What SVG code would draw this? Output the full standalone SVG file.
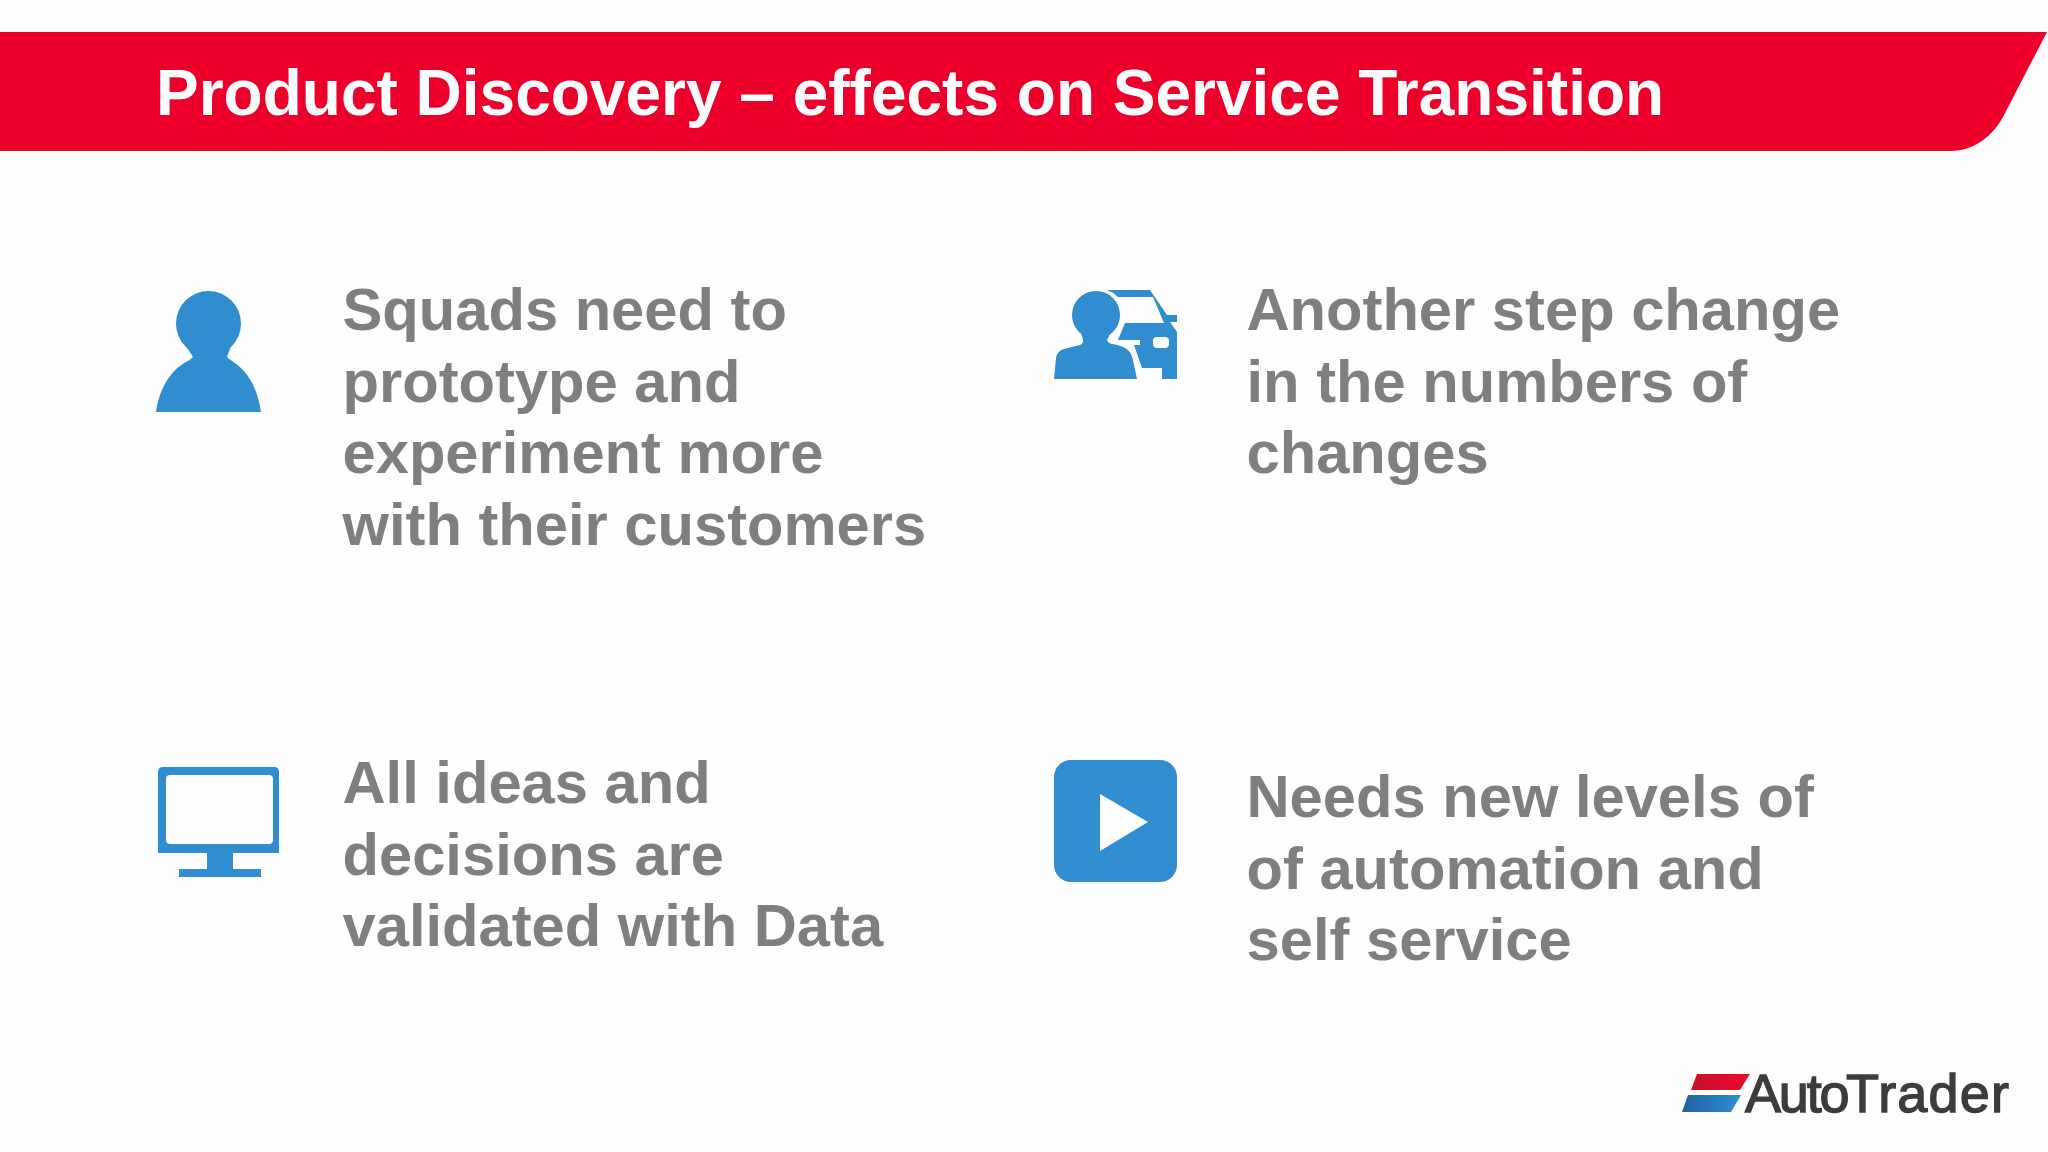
<svg xmlns="http://www.w3.org/2000/svg" width="2048" height="1152" viewBox="0 0 2048 1152">
<style>
.b{font-family:"Liberation Sans",Arial,sans-serif;font-weight:700;font-size:59.7px;fill:#7f7f7f}
.i{fill:#2f8dd0}
.l{font-family:"Liberation Sans",Arial,sans-serif;font-size:54px;fill:#3c3c3e;stroke:#3c3c3e;stroke-width:1.4}
</style>
<defs>
<linearGradient id="r" x1="0" x2="1" y1="0" y2="0"><stop offset="0" stop-color="#c8102e"/><stop offset="1" stop-color="#ee0a2c"/></linearGradient>
<linearGradient id="bl" x1="0" x2="1" y1="0" y2="0"><stop offset="0" stop-color="#24609f"/><stop offset="1" stop-color="#2b8fd4"/></linearGradient>
</defs>
<rect width="2048" height="1152" fill="#fefefe"/>
<g id="banner">
<path d="M0 32H2047L2003 117C1993 135 1975 151 1950 151H0Z" fill="#ec002b"/>
<text x="156" y="115" font-family="Liberation Sans,Arial,sans-serif" font-weight="700" font-size="64" fill="#fff">Product Discovery – effects on Service Transition</text>
</g>
<g id="node-squads">
<circle class="i" cx="208.5" cy="323.5" r="32.5"/>
<path class="i" d="M186 346H231L227 357Q229 359 232 361C250 372 258 392 261 412H156C159 392 168 372 186 362Q190 360 193 357Z"/>
<text class="b"><tspan x="342.5" y="330">Squads need to</tspan><tspan x="342.5" y="401.6">prototype and</tspan><tspan x="342.5" y="473.2">experiment more</tspan><tspan x="342.5" y="544.8">with their customers</tspan></text>
</g>
<g id="node-changes">
<path class="i" d="M1107 290H1150L1167 315H1177V322H1170L1177 332V379H1162V368H1142L1134 345H1140V340H1118L1125 323H1164L1153 297H1118Q1113 292 1107 290Z"/>
<rect x="1153" y="337" width="16" height="11" rx="4" fill="#fefefe"/>
<circle class="i" cx="1096" cy="315" r="24"/>
<path class="i" d="M1081 332H1111L1107 340Q1108 343 1112 344C1125 346 1131 350 1133 360L1137 379H1054L1056 358Q1057 351 1064 349L1080 345Q1084 343 1083 340Z"/>
<text class="b"><tspan x="1246.5" y="330">Another step change</tspan><tspan x="1246.5" y="401.6">in the numbers of</tspan><tspan x="1246.5" y="473.2">changes</tspan></text>
</g>
<g id="node-data">
<path class="i" fill-rule="evenodd" d="M163 767H274Q279 767 279 772V853H233V869H261V877H179V869H207V853H158V772Q158 767 163 767ZM170 775Q166 775 166 779V840Q166 844 170 844H269Q273 844 273 840V779Q273 775 269 775Z"/>
<text class="b"><tspan x="342.5" y="803">All ideas and</tspan><tspan x="342.5" y="874.6">decisions are</tspan><tspan x="342.5" y="946.2">validated with Data</tspan></text>
</g>
<g id="node-automation">
<rect class="i" x="1054" y="760" width="123" height="122" rx="17"/>
<path d="M1100 794L1148 822L1100 851Z" fill="#fff"/>
<text class="b"><tspan x="1246.5" y="817">Needs new levels of</tspan><tspan x="1246.5" y="888.6">of automation and</tspan><tspan x="1246.5" y="960.2">self service</tspan></text>
</g>
<g id="logo">
<path d="M1697 1074H1750L1740 1090H1691Z" fill="url(#r)"/>
<path d="M1688 1095H1741L1731 1112H1682Z" fill="url(#bl)"/>
<text class="l"><tspan x="1745" y="1112" letter-spacing="-2.2">Auto</tspan><tspan x="1846" y="1112" letter-spacing="1.2">Trader</tspan></text>
</g>
</svg>
